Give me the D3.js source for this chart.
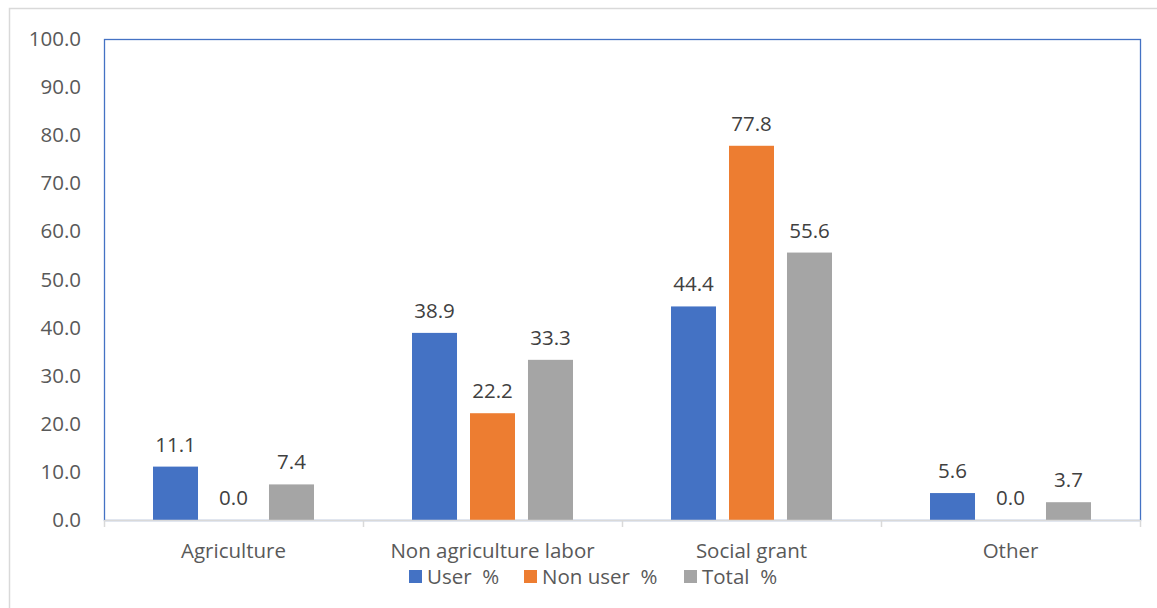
<!DOCTYPE html>
<html>
<head>
<meta charset="utf-8">
<script src="https://cdn.jsdelivr.net/npm/d3@7"></script>
<style>
  body { margin: 0; background: #fff; }
  svg text { font-family: "Open Sans", sans-serif; }
</style>
</head>
<body>
<div class="canvas"></div>
<script>
// data
const categories = ["Agriculture", "Non agriculture labor", "Social grant", "Other"];
const seriesNames = ["User  %", "Non user  %", "Total  %"];
const userPct = [11.1, 38.9, 44.4, 5.6];
const nonUserPct = [0.0, 22.2, 77.8, 0.0];
const totalPct = [7.4, 33.3, 55.6, 3.7];
const yTicks = [0, 10, 20, 30, 40, 50, 60, 70, 80, 90, 100];

const colors = ["#4472C4", "#ED7D31", "#A5A5A5"];
const series = [userPct, nonUserPct, totalPct];

const W = 1157, H = 608;
const plot = {left: 104, right: 1140, top: 39, bottom: 520};
const fontSize = "20.5px";

const svg = d3.select(".canvas").append("svg")
  .attr("width", W).attr("height", H);

// outer chart border (runs off the page on right and bottom)
svg.append("rect")
  .attr("x", 9.5).attr("y", 8.5)
  .attr("width", W + 20).attr("height", H + 20)
  .attr("fill", "none").attr("stroke", "#d9d9d9").attr("stroke-width", 1.5);

const x0 = d3.scaleBand()
  .domain(categories)
  .range([plot.left, plot.right]);

const x1 = d3.scaleBand()
  .domain(d3.range(series.length))
  .range([0, x0.bandwidth()])
  .paddingInner(0.224)
  .paddingOuter(0.845);

const y = d3.scaleLinear()
  .domain([0, 100])
  .range([plot.bottom, plot.top]);

// plot area border
svg.append("rect")
  .attr("x", plot.left + 0.5).attr("y", plot.top + 0.5)
  .attr("width", plot.right - plot.left).attr("height", plot.bottom - plot.top)
  .attr("fill", "none").attr("stroke", "#4472C4").attr("stroke-width", 1.3);

// y axis labels
const yAxis = svg.append("g")
  .attr("transform", `translate(${plot.left},0)`)
  .call(d3.axisLeft(y).tickValues(yTicks).tickFormat(d3.format(".1f")).tickSize(0).tickPadding(23));
yAxis.select(".domain").remove();
yAxis.selectAll("text")
  .style("font-size", fontSize)
  .style("font-family", "'Open Sans', sans-serif")
  .attr("fill", "#595959");

// bars
const groups = svg.append("g").selectAll("g")
  .data(categories)
  .join("g")
    .attr("transform", d => `translate(${x0(d)},0)`);

groups.selectAll("rect")
  .data((d, i) => series.map((s, j) => ({j: j, v: s[i]})))
  .join("rect")
    .attr("x", d => x1(d.j))
    .attr("y", d => y(d.v))
    .attr("width", x1.bandwidth())
    .attr("height", d => y(0) - y(d.v))
    .attr("fill", d => colors[d.j]);

groups.selectAll("text")
  .data((d, i) => series.map((s, j) => ({j: j, v: s[i]})))
  .join("text")
    .attr("x", d => x1(d.j) + x1.bandwidth() / 2)
    .attr("y", d => y(d.v) - 15)
    .attr("text-anchor", "middle")
    .attr("fill", "#404040")
    .style("font-size", fontSize)
    .text(d => d.v.toFixed(1));

// x axis
const xAxis = svg.append("g")
  .attr("transform", `translate(0,${plot.bottom})`)
  .call(d3.axisBottom(x0).tickSize(0).tickPadding(23));
xAxis.select(".domain").attr("stroke", "#d9d9d9").attr("stroke-width", 1.5);
xAxis.selectAll("text")
  .style("font-size", fontSize)
  .style("font-family", "'Open Sans', sans-serif")
  .attr("fill", "#595959");

// category separators
const edges = categories.map(c => x0(c)).concat([plot.right]);
svg.append("g").selectAll("line")
  .data(edges)
  .join("line")
    .attr("x1", d => d + 0.5).attr("x2", d => d + 0.5)
    .attr("y1", plot.bottom).attr("y2", plot.bottom + 7)
    .attr("stroke", "#d9d9d9").attr("stroke-width", 1.5);

// legend
const legendX = [409, 524, 684];
const legend = svg.append("g").selectAll("g")
  .data(seriesNames)
  .join("g")
    .attr("transform", (d, i) => `translate(${legendX[i]},570)`);
legend.append("rect")
  .attr("width", 13).attr("height", 13)
  .attr("fill", (d, i) => colors[i]);
legend.append("text")
  .attr("x", 18).attr("y", 14)
  .attr("fill", "#595959")
  .style("font-size", fontSize)
  .style("white-space", "pre")
  .text(d => d);
</script>
</body>
</html>
